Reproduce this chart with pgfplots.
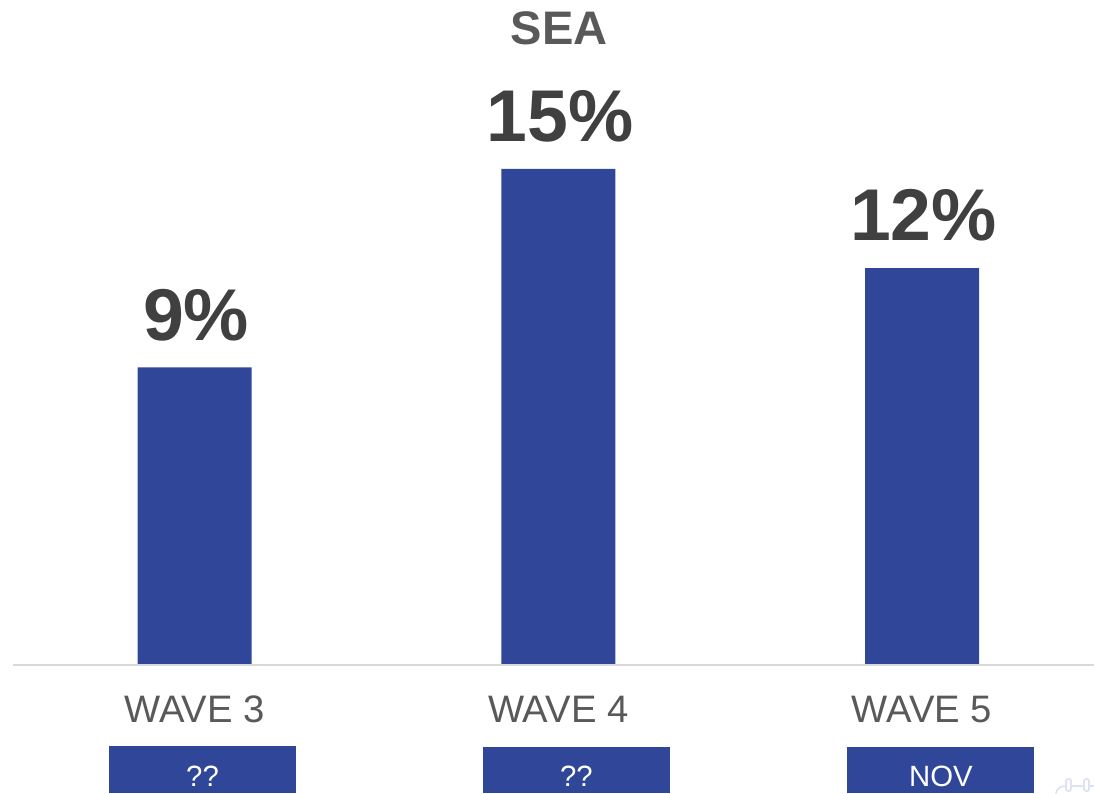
\documentclass[border=0pt]{standalone}
\usepackage{pgfplots}
\pgfplotsset{compat=1.18}
\usepackage{fontspec}
\setmainfont{Liberation Sans}
\definecolor{barblue}{HTML}{2F4699}
\definecolor{labelgrey}{HTML}{595959}
\definecolor{valuegrey}{HTML}{404040}
\definecolor{axisgrey}{HTML}{D9D9D9}
\definecolor{glyphblue}{HTML}{DDE3F2}
\begin{document}
\begin{tikzpicture}[x=0.75pt,y=0.75pt]
  % page frame: the plot area starts 13 units in and leaves 128 units below the baseline
  \useasboundingbox (-13,-128) rectangle (1081,665);
  \begin{axis}[
    at={(0,0)}, anchor=south west,
    scale only axis,
    width=810.75pt, height=498.75pt,
    xmin=-0.4990, xmax=2.4729,
    ymin=0, ymax=20.11,
    clip=false,
    axis line style={draw=none},
    axis x line*=bottom,
    axis y line=none,
    xtick={0,1,2},
    xticklabels={WAVE 3,WAVE 4,WAVE 5},
    major tick length=0pt,
    xticklabel style={font=\fontsize{28.7}{30}\selectfont, text=labelgrey, anchor=base, yshift=-43.2pt},
    ybar,
    bar width=85.5pt,
    bar shift=0pt,
    nodes near coords={\pgfmathprintnumber[fixed,precision=0,assume math mode=true]{\pgfplotspointmeta}\%},
    every node near coord/.append style={font=\bfseries\fontsize{55}{60}\selectfont, text=valuegrey, anchor=base, yshift=20.5pt, xshift=1.2pt},
  ]
    \addplot[fill=barblue, draw=none] coordinates {(0,9) (1,15) (2,12)};

    % baseline across the plot
    \draw[axisgrey, line width=1.5pt] (rel axis cs:0,0) -- (rel axis cs:1,0);

    % panel heading
    \node[font=\bfseries\fontsize{35.3}{37}\selectfont, text=labelgrey, anchor=base]
      at (axis cs:1.003,18.75) {SEA};

    % period tags under the wave labels
    \fill[barblue] (axis cs:-0.2351,-3.87) rectangle (axis cs:0.2790,-2.45);
    \fill[barblue] (axis cs:0.7931,-3.87) rectangle (axis cs:1.3072,-2.48);
    \fill[barblue] (axis cs:1.7938,-3.87) rectangle (axis cs:2.3079,-2.48);
    \node[font=\fontsize{22}{24}\selectfont, text=white, anchor=base] at (axis cs:0.0220,-3.68) {??};
    \node[font=\fontsize{22}{24}\selectfont, text=white, anchor=base] at (axis cs:1.0501,-3.68) {??};
    \node[font=\fontsize{22}{24}\selectfont, text=white, anchor=base] at (axis cs:2.0523,-3.68) {NOV};
  \end{axis}

  % small connector glyph in the lower right corner
  \draw[glyphblue, line width=1.3pt, line cap=round] (1043,-128) .. controls (1044,-123) and (1048,-121) .. (1053,-121) -- (1081,-121);
  \draw[glyphblue, line width=1.3pt, fill=white, rounded corners=1.5pt] (1053,-126) rectangle (1058,-114);
  \draw[glyphblue, line width=1.3pt, fill=white, rounded corners=1.5pt] (1071,-126) rectangle (1076,-114);
\end{tikzpicture}
\end{document}
